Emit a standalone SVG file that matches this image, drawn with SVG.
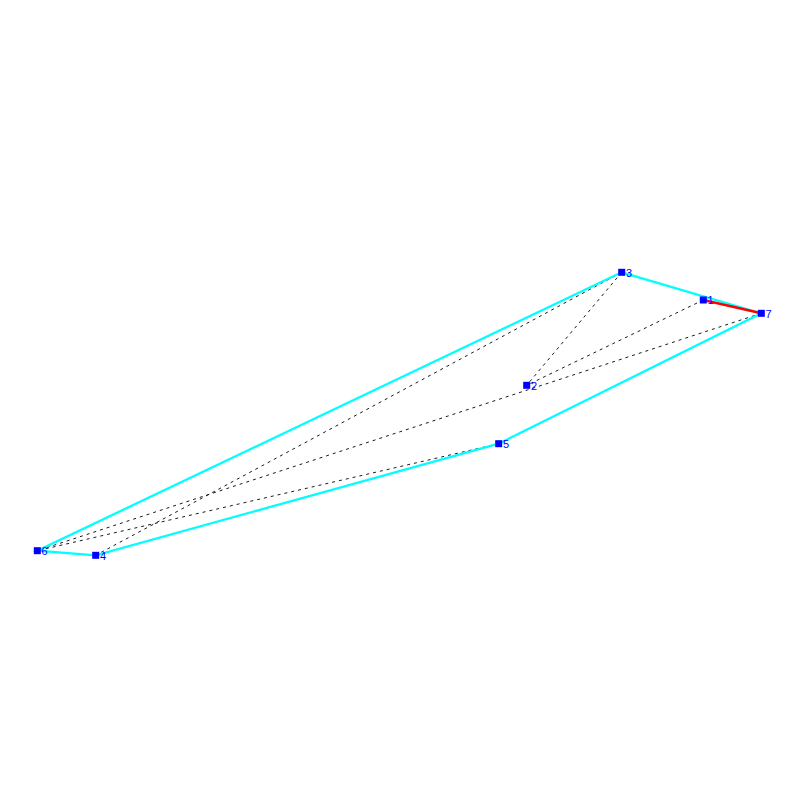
<svg xmlns="http://www.w3.org/2000/svg" width="800" height="800" viewBox="0 0 800 800">
<style>
.hull{stroke:#00ffff;stroke-width:2.3;fill:none}
.dash{stroke:#000;stroke-width:0.9;stroke-dasharray:3,4;fill:none}
.red{stroke:#ff0000;stroke-width:2.5;fill:none}
.node rect{fill:#0000ff}
.node text{fill:#0000ff;font-family:"Liberation Sans",Arial,sans-serif;font-size:11px}
</style>
<rect width="800" height="800" fill="#fff"/>
<g id="connectors">
<line class="dash" x1="621.7" y1="272.3" x2="526.7" y2="385.3"/>
<line class="dash" x1="621.7" y1="272.3" x2="95.7" y2="555.3"/>
<line class="dash" x1="703.3" y1="300" x2="526.7" y2="385.3"/>
<line class="dash" x1="761.3" y1="313.3" x2="37.3" y2="550.7"/>
<line class="dash" x1="498.7" y1="443.7" x2="37.3" y2="550.7"/>
<line class="dash" x1="498.7" y1="443.7" x2="95.7" y2="555.3"/>
<polyline class="hull" points="621.7,272.3 761.3,313.3 498.7,443.7 95.7,555.3 37.3,550.7 621.7,272.3"/>
<line class="red" x1="703.3" y1="300" x2="761.3" y2="313.3"/>
</g>
<g id="n1" class="node"><rect x="699.8" y="296.5" width="7" height="7"/><text x="707.5" y="304">1</text></g>
<g id="n2" class="node"><rect x="523.2" y="381.8" width="7" height="7"/><text x="531" y="389.5">2</text></g>
<g id="n3" class="node"><rect x="618.2" y="268.8" width="7" height="7"/><text x="626" y="276.5">3</text></g>
<g id="n4" class="node"><rect x="92.2" y="551.8" width="7" height="7"/><text x="100" y="559.5">4</text></g>
<g id="n5" class="node"><rect x="495.2" y="440.2" width="7" height="7"/><text x="503" y="448">5</text></g>
<g id="n6" class="node"><rect x="33.8" y="547.2" width="7" height="7"/><text x="41.5" y="555">6</text></g>
<g id="n7" class="node"><rect x="757.8" y="309.8" width="7" height="7"/><text x="765.5" y="317.5">7</text></g>
</svg>
